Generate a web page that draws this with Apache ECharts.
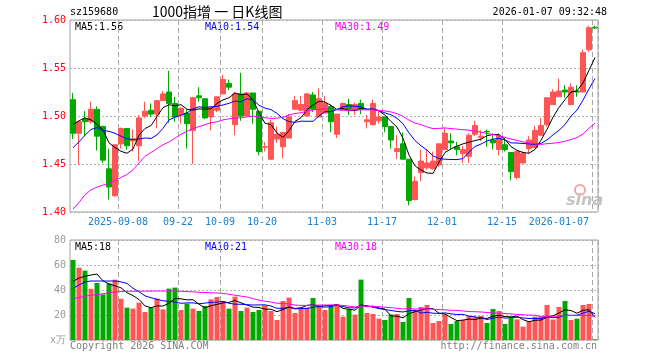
<!DOCTYPE html>
<html><head><meta charset="utf-8">
<script src="https://cdn.jsdelivr.net/npm/echarts@6/dist/echarts.min.js"></script>
<style>html,body{margin:0;padding:0;background:#fff}#c{width:660px;height:360px}</style>
</head><body><div id="c"></div>
<script>
const dates = [
'2025-08-27','2025-08-28','2025-08-29','2025-09-01','2025-09-02','2025-09-03','2025-09-04','2025-09-05',
'2025-09-08','2025-09-09','2025-09-10','2025-09-11','2025-09-12',
'2025-09-15','2025-09-16','2025-09-17','2025-09-18','2025-09-19',
'2025-09-22','2025-09-23','2025-09-24','2025-09-25','2025-09-26',
'2025-09-29','2025-09-30','2025-10-09','2025-10-10',
'2025-10-13','2025-10-14','2025-10-15','2025-10-16','2025-10-17',
'2025-10-20','2025-10-21','2025-10-22','2025-10-23','2025-10-24',
'2025-10-27','2025-10-28','2025-10-29','2025-10-30','2025-10-31',
'2025-11-03','2025-11-04','2025-11-05','2025-11-06','2025-11-07',
'2025-11-10','2025-11-11','2025-11-12','2025-11-13','2025-11-14',
'2025-11-17','2025-11-18','2025-11-19','2025-11-20','2025-11-21',
'2025-11-24','2025-11-25','2025-11-26','2025-11-27','2025-11-28',
'2025-12-01','2025-12-02','2025-12-03','2025-12-04','2025-12-05',
'2025-12-08','2025-12-09','2025-12-10','2025-12-11','2025-12-12',
'2025-12-15','2025-12-16','2025-12-17','2025-12-18','2025-12-19',
'2025-12-22','2025-12-23','2025-12-24','2025-12-25','2025-12-26',
'2025-12-29','2025-12-30','2025-12-31','2026-01-05','2026-01-06','2026-01-07'];

const tickDates = ['2025-09-08','2025-09-22','2025-10-09','2025-10-20','2025-11-03','2025-11-17','2025-12-01','2025-12-15','2026-01-07'];
const tickLabels = ['2025-09-08','09-22','10-09','10-20','11-03','11-17','12-01','12-15','2026-01-07'];

const open = [1.517,1.482,1.497,1.494,1.507,1.489,1.445,1.417,1.471,1.487,
1.474,1.469,1.500,1.506,1.502,1.516,1.525,1.513,1.501,1.503,
1.485,1.521,1.518,1.499,1.506,1.523,1.534,1.491,1.523,1.500,
1.524,1.505,1.4675,1.455,1.476,1.468,1.477,1.507,1.506,1.500,
1.522,1.499,1.503,1.510,1.481,1.506,1.512,1.506,1.513,1.494,
1.491,1.495,1.499,1.489,1.463,1.471,1.455,1.413,1.441,1.446,
1.445,1.449,1.465,1.474,1.468,1.461,1.458,1.481,1.4775,1.484,
1.475,1.465,1.470,1.462,1.436,1.451,1.466,1.467,1.480,1.491,
1.512,1.520,1.527,1.512,1.526,1.525,1.569,1.5924];

const close = [1.482,1.494,1.494,1.507,1.479,1.454,1.426,1.470,1.487,1.469,
1.476,1.498,1.505,1.502,1.516,1.523,1.513,1.499,1.508,1.492,
1.519,1.519,1.498,1.509,1.520,1.538,1.530,1.523,1.500,1.524,
1.507,1.463,1.468,1.493,1.481,1.483,1.499,1.516,1.512,1.523,
1.507,1.518,1.513,1.494,1.502,1.513,1.507,1.512,1.507,1.496,
1.513,1.499,1.489,1.475,1.466,1.455,1.412,1.432,1.453,1.451,
1.453,1.471,1.482,1.472,1.465,1.465,1.480,1.490,1.479,1.4835,
1.472,1.479,1.465,1.442,1.463,1.461,1.475,1.485,1.490,1.519,
1.525,1.526,1.525,1.530,1.525,1.566,1.592,1.5917];

const low = [1.476,1.449,1.479,1.492,1.464,1.451,1.413,1.416,1.466,1.465,
1.463,1.453,1.498,1.499,1.487,1.516,1.493,1.494,1.492,1.466,
1.450,1.515,1.497,1.485,1.504,1.523,1.527,1.480,1.495,1.500,
1.492,1.459,1.463,1.454,1.472,1.456,1.477,1.507,1.505,1.500,
1.504,1.499,1.503,1.483,1.477,1.506,1.501,1.501,1.502,1.487,
1.490,1.492,1.483,1.466,1.455,1.455,1.407,1.412,1.432,1.444,
1.444,1.447,1.465,1.466,1.459,1.451,1.451,1.479,1.474,1.468,
1.465,1.459,1.463,1.433,1.434,1.451,1.461,1.467,1.479,1.489,
1.512,1.520,1.519,1.511,1.520,1.525,1.567,1.5906];

const high = [1.524,1.495,1.505,1.515,1.510,1.490,1.466,1.470,1.488,1.487,
1.486,1.501,1.515,1.513,1.516,1.526,1.547,1.520,1.509,1.507,
1.520,1.530,1.518,1.509,1.520,1.543,1.538,1.525,1.545,1.525,
1.524,1.505,1.473,1.496,1.489,1.483,1.502,1.521,1.521,1.524,
1.525,1.529,1.521,1.512,1.502,1.514,1.518,1.514,1.517,1.501,
1.517,1.505,1.499,1.489,1.480,1.483,1.455,1.437,1.465,1.465,
1.463,1.471,1.487,1.482,1.473,1.469,1.482,1.495,1.485,1.486,
1.482,1.482,1.477,1.462,1.463,1.463,1.479,1.490,1.498,1.519,
1.528,1.539,1.532,1.534,1.532,1.569,1.594,1.5941];

const ma5 = [1.491,1.495,1.498,1.496,1.4912,1.4856,1.472,1.4672,1.4632,1.4612,
1.4656,1.480,1.487,1.490,1.4994,1.5088,1.5118,1.5106,1.5118,1.507,
1.5062,1.5074,1.5072,1.5074,1.513,1.5168,1.519,1.524,1.5222,1.523,
1.5168,1.5034,1.4924,1.491,1.4824,1.4776,1.4848,1.4944,1.4982,1.5066,
1.5114,1.5152,1.5146,1.511,1.5068,1.508,1.5058,1.5056,1.5082,1.507,
1.507,1.5054,1.5008,1.4944,1.4884,1.4768,1.4594,1.448,1.4436,1.4406,
1.4402,1.452,1.462,1.4658,1.4686,1.471,1.4728,1.4744,1.4758,1.4794,
1.4808,1.4806,1.4756,1.4682,1.4642,1.462,1.4612,1.4652,1.4748,1.486,
1.4988,1.509,1.517,1.525,1.5262,1.5344,1.5476,1.561];

const ma10 = [1.467,1.473,1.480,1.486,1.488,1.485,1.484,1.482,1.479,1.4762,
1.4756,1.476,1.4771,1.4766,1.4803,1.4872,1.4959,1.4988,1.5009,1.5032,
1.5075,1.5096,1.5089,1.5096,1.510,1.5115,1.5132,1.5156,1.5148,1.518,
1.5168,1.5112,1.5082,1.5066,1.5027,1.4972,1.4941,1.4934,1.4946,1.4945,
1.4945,1.500,1.5045,1.5046,1.5067,1.5097,1.5105,1.5101,1.5096,1.5069,
1.5075,1.5056,1.5032,1.5013,1.4977,1.4919,1.4824,1.4744,1.469,1.4645,
1.4585,1.4557,1.455,1.4547,1.4546,1.4556,1.4624,1.4682,1.4708,1.474,
1.4759,1.4767,1.475,1.472,1.4718,1.4714,1.4709,1.4704,1.4715,1.4751,
1.4804,1.4851,1.4911,1.4999,1.5061,1.5166,1.5283,1.539];

const ma30 = [1.403,1.410,1.418,1.423,1.426,1.428,1.430,1.433,1.436,1.439,
1.444,1.451,1.458,1.462,1.466,1.470,1.473,1.477,1.481,1.484,
1.487,1.489,1.491,1.493,1.494,1.496,1.497,1.498,1.498,1.4991,
1.500,1.4989,1.4981,1.4976,1.4977,1.4986,1.5011,1.5026,1.5034,1.5052,
1.5063,1.5069,1.5072,1.5069,1.5065,1.5061,1.5059,1.5064,1.5063,1.5065,
1.5063,1.5056,1.5053,1.5042,1.5024,1.4996,1.4957,1.4926,1.4911,1.4886,
1.4868,1.4871,1.4876,1.4869,1.4863,1.4857,1.4851,1.4842,1.4831,1.4818,
1.4806,1.4793,1.4777,1.476,1.4747,1.473,1.4719,1.471,1.4704,1.4712,
1.4716,1.4725,1.4737,1.4755,1.4775,1.4812,1.4872,1.4925];

const volume = [64,57.9,55.5,41,45.6,36.5,45.3,48.3,33,25.9,
25.1,29.9,22.4,25.9,33.1,24.5,41.1,41.9,24,29.1,
25.1,23.2,27.2,32.5,34.4,31.2,25.1,34.7,23.2,25.9,
22.4,24,27.7,23.2,16,31.2,33.9,21.6,25.9,25.9,
33.6,27.7,24,27,28.8,18.7,24.5,20.3,48.3,21.6,
20.8,17.1,16,20.5,20.8,14.4,33.6,24,26.4,28,
13.6,15.2,20.5,12.8,15.2,16,19.2,18.4,19.2,13.6,
24.8,23.2,12.8,18.1,16.5,10.7,14.9,18.7,18.9,28,
16.3,26.4,31.2,16,17.1,28,28.8,0.5];

const vma5 = [47,49.5,51,52,52.8,47.3,44.78,43.34,41.74,37.8,
35.52,32.44,27.26,25.84,27.28,27.16,29.4,33.3,32.92,32.12,
32.24,28.66,25.72,27.42,28.48,29.7,30.08,31.58,29.72,28.02,
26.26,26.04,24.64,24.64,22.66,24.42,26.4,25.18,25.72,27.7,
28.18,26.94,27.42,27.64,28.22,25.24,24.6,23.86,28.12,26.68,
27.1,25.62,24.76,19.2,19.04,17.76,21.06,22.66,23.84,25.28,
25.12,21.44,20.74,18.02,15.46,15.94,16.74,16.32,17.6,17.28,
19.04,19.84,18.72,18.5,19.08,16.26,14.6,15.78,15.94,18.24,
19.36,21.66,24.16,23.58,21.4,23.74,24.22,18.08];

const vma10 = [41.3,44,46.5,47.2,47.2,47.2,47.2,47.2,46.5,45.3,
41.41,38.61,35.3,33.79,32.54,31.34,30.92,30.28,29.38,29.7,
29.7,29.03,29.51,30.17,30.3,30.97,29.37,28.65,28.57,28.25,
27.98,28.06,28.11,27.18,25.34,25.34,26.22,24.91,25.18,25.18,
26.3,26.67,26.3,26.68,27.96,26.71,25.77,25.64,27.88,27.45,
26.17,25.11,24.31,23.66,22.86,22.43,23.34,23.71,21.52,22.16,
21.44,21.25,21.7,20.93,20.37,20.53,19.09,18.53,17.81,16.37,
17.49,18.29,17.52,18.05,18.18,17.65,17.22,17.25,17.22,18.66,
17.81,18.13,19.97,19.76,19.82,21.55,22.94,21.12];

const vma30 = [33,34,35,35.8,36.3,37,37.8,38.5,38.8,39,
39,39,39.1,39.1,39.2,39.2,39.2,39.2,39,38.8,
38.5,38.2,38,37.8,37.6,37.3,36.6,35.8,35.1,34.42,
33.03,31.9,30.97,30.38,29.39,29.22,28.84,27.95,27.71,27.71,
27.99,27.92,27.97,28.01,27.87,27.67,27.12,26.4,27.21,26.96,
26.82,26.61,26.24,25.84,25.39,24.83,25.11,24.75,24.86,24.93,
24.64,24.34,24.1,23.76,23.73,23.22,22.73,22.63,22.4,21.99,
21.7,21.55,21.18,20.88,20.47,20.2,19.88,19.83,18.85,19.06,
18.91,19.22,19.73,19.58,19.46,19.91,19.75,18.97];

const UP = '#ff5555', DOWN = '#00a800';
const MONO = '"DejaVu Sans Mono", "Liberation Mono", monospace';
const GRIDC = '#a0a0a0';
const last = dates.length - 1;

const isTick = (i) => tickDates.indexOf(dates[i]) >= 0;
const candle = dates.map((d, i) => [open[i], close[i], low[i], high[i]]);
const volData = volume.map((v, i) => ({
  value: v,
  itemStyle: { color: close[i] > open[i] ? UP : (close[i] < open[i] ? DOWN : (i > 0 && close[i] >= close[i - 1] ? UP : DOWN)) }
}));

function xAxisCfg(gi, showLabel) {
  return {
    type: 'category', gridIndex: gi, data: dates, boundaryGap: true,
    axisLine: { show: false }, axisTick: { show: false },
    splitLine: { show: true, interval: (i) => isTick(i), lineStyle: { color: '#a8a8a8', type: [5, 3], width: 1 } },
    axisLabel: {
      show: showLabel, interval: (i) => isTick(i),
      formatter: (v) => { const j = tickDates.indexOf(v); return j >= 0 ? tickLabels[j] : ''; },
      color: '#1a80d0', fontFamily: MONO, fontSize: 10, margin: 5, padding: [0, 6, 0, 0],
      alignMaxLabel: 'right'
    }
  };
}

function lineSeries(name, data, color, xi, yi) {
  return { name, type: 'line', data, xAxisIndex: xi, yAxisIndex: yi, symbol: 'none', smooth: false,
    lineStyle: { color, width: 1 }, itemStyle: { color }, z: 5, silent: true };
}

const legendFont = '10px ' + MONO;
const txt = (text, x, y, fill, font, align) => ({
  type: 'text', x, y, silent: true,
  style: { text, fill, font: font || legendFont, textAlign: align || 'left', textVerticalAlign: 'middle' }
});

const option = {
  animation: false,
  backgroundColor: '#fff',
  grid: [
    { left: 70, top: 20, width: 528, height: 192, show: true, borderColor: GRIDC, borderWidth: 1, backgroundColor: 'transparent' },
    { left: 70, top: 240, width: 528, height: 100, show: true, borderColor: GRIDC, borderWidth: 1, backgroundColor: 'transparent' }
  ],
  xAxis: [xAxisCfg(0, true), xAxisCfg(1, false)],
  yAxis: [
    { type: 'value', gridIndex: 0, min: 1.40, max: 1.60, interval: 0.05, scale: false,
      axisLine: { show: false }, axisTick: { show: false },
      splitLine: { show: true, lineStyle: { color: '#b4b4b4', type: [2, 2], width: 1 } },
      axisLabel: { color: '#ff0000', fontFamily: MONO, fontSize: 10, margin: 4, formatter: (v) => v.toFixed(2) } },
    { type: 'value', gridIndex: 1, min: 0, max: 80, interval: 20,
      axisLine: { show: false }, axisTick: { show: false },
      splitLine: { show: true, lineStyle: { color: '#b4b4b4', type: [2, 2], width: 1 } },
      axisLabel: { color: '#9a9a9a', fontFamily: MONO, fontSize: 10, margin: 4,
        formatter: (v) => v === 0 ? 'x万' : String(v) } }
  ],
  series: [
    { name: 'K', type: 'candlestick', xAxisIndex: 0, yAxisIndex: 0, data: candle, barWidth: 5,
      itemStyle: { color: UP, color0: DOWN, borderColor: UP, borderColor0: DOWN, borderWidth: 1 }, silent: true },
    lineSeries('MA5', ma5, '#000000', 0, 0),
    lineSeries('MA10', ma10, '#0000ff', 0, 0),
    lineSeries('MA30', ma30, '#ff00ff', 0, 0),
    { name: 'VOL', type: 'bar', xAxisIndex: 1, yAxisIndex: 1, data: volData, barWidth: 5, silent: true },
    lineSeries('VMA5', vma5, '#000000', 1, 1),
    lineSeries('VMA10', vma10, '#0000ff', 1, 1),
    lineSeries('VMA30', vma30, '#ff00ff', 1, 1)
  ],
  graphic: [
    txt('sz159680', 70, 12, '#000'),
    txt('1000指增 一 日K线图', 152, 12, '#000', '14px "Noto Sans CJK SC"'),
    txt('2026-01-07 09:32:48', 607, 12, '#000', legendFont, 'right'),
    txt('MA5:' + ma5[last].toFixed(2), 75, 27, '#000'),
    txt('MA10:' + ma10[last].toFixed(2), 205, 27, '#0000ff'),
    txt('MA30:' + ma30[last].toFixed(2), 335, 27, '#ff00ff'),
    txt('MA5:' + Math.floor(vma5[last]), 75, 247, '#000'),
    txt('MA10:' + Math.floor(vma10[last]), 205, 247, '#0000ff'),
    txt('MA30:' + Math.floor(vma30[last]), 335, 247, '#ff00ff'),
    txt('Copyright 2026 SINA.COM', 70, 346, '#808080'),
    txt('http://finance.sina.com.cn', 597, 346, '#808080', legendFont, 'right'),
    { type: 'circle', shape: { cx: 580, cy: 190, r: 5 }, silent: true,
      style: { fill: 'none', stroke: '#f3a5a5', lineWidth: 2 } },
    txt('sina', 566, 201, '#c4c4c4', 'italic bold 16px "DejaVu Sans"')
  ]
};

const chart = echarts.init(document.getElementById('c'), null, { renderer: 'canvas' });
chart.setOption(option);
</script>
</body></html>
